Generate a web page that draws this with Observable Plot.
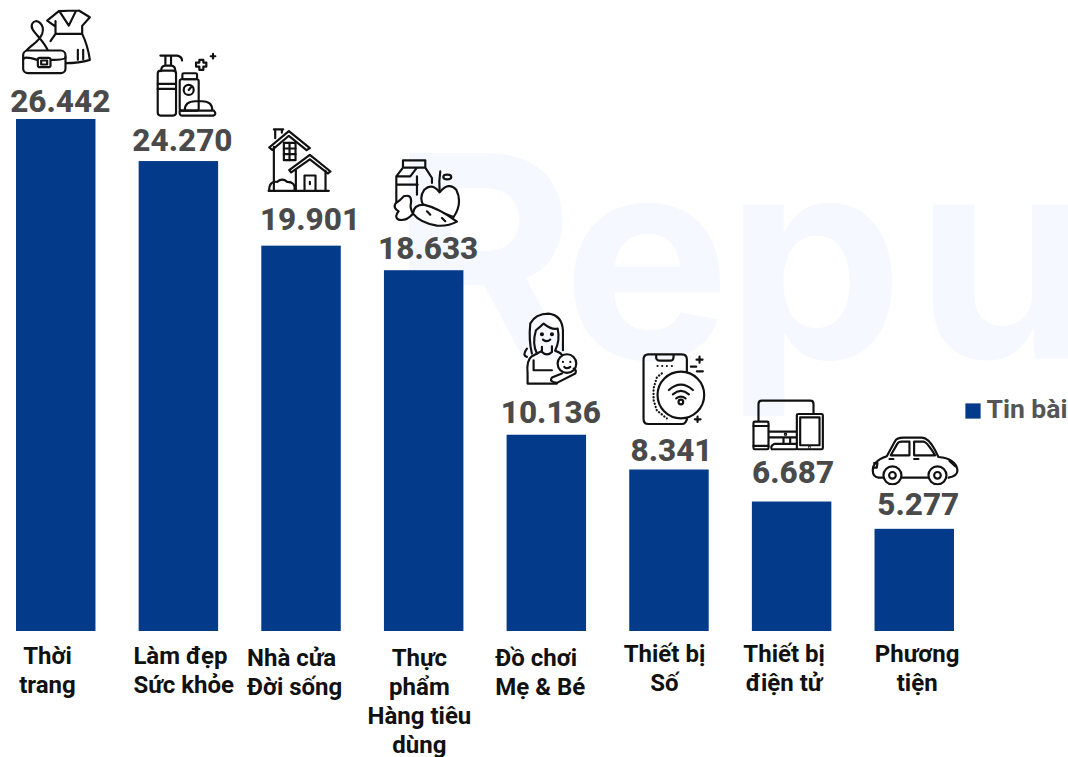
<!DOCTYPE html>
<html lang="vi">
<head>
<meta charset="utf-8">
<script src="https://cdn.jsdelivr.net/npm/d3@7"></script>
<script src="https://cdn.jsdelivr.net/npm/@observablehq/plot@0.6"></script>
<style>
html,body{margin:0;padding:0;background:#fff;overflow:hidden}
svg{display:block}
</style>
</head>
<body>
<div id="chart"></div>
<script>
// ---- data ----
const categories = ["Thời trang","Làm đẹp Sức khỏe","Nhà cửa Đời sống","Thực phẩm Hàng tiêu dùng","Đồ chơi Mẹ & Bé","Thiết bị Số","Thiết bị điện tử","Phương tiện"];
const tinBai = [26442,24270,19901,18633,10136,8341,6687,5277];
const tickLines = ["Thời\ntrang","Làm đẹp\nSức khỏe","Nhà cửa\nĐời sống","Thực\nphẩm\nHàng tiêu\ndùng","Đồ chơi\nMẹ & Bé","Thiết bị\nSố","Thiết bị\nđiện tử","Phương\ntiện"];
const seriesName = "Tin bài";
const watermarkLetters = ["R","e","p","u"];

// ---- hand placement of the annotations, as in the reference ----
const valueNudge = [[4,-18],[3.5,-21],[8.5,-26],[4,-22],[4,-22],[2,-19],[1,-29],[3.5,-24]];
const tickNudge  = [[-8.75,12,"middle"],[-45.5,12,"start"],[-54.5,14.5,"start"],[-4.8,14.5,"middle"],[-51.5,14.5,"start"],[-5,10.5,"middle"],[-8,10.5,"middle"],[2.4,10.5,"middle"]];
const watermarkX = [390,562,725,915];
// icon box [left offset from band centre, top offset from bar top, width, height]
const iconBox = [[-35.75,-112.3,71.7,70],[-23.5,-109.3,63.3,65],[-35,-118.7,66,65.7],[-32.2,-112.7,68.3,70],[-24.9,-125,56.7,76],[-28.6,-118,65,74],[-41.3,-103.7,74.7,53.3],[-44,-94,88.7,50]];

const ink = 'fill="none" stroke="#111" stroke-width="STROKE" stroke-linecap="round" stroke-linejoin="round"';
const icons = [
 ["60 20 215 210",6.5,`<path d="M175 32 L140 60 L165 78 M235 30 L268 50 L245 76 M175 32 Q205 30 235 30 M178 34 L205 75 L225 34 M165 62 V100 H245 V76 M165 100 L150 122 M245 100 Q262 135 268 178 Q235 188 195 188 M232 148 V178 M248 148 V176"/><path d="M142 150 C125 110 85 90 95 70 C105 50 135 70 125 100 C115 125 90 135 78 150"/><rect x="68" y="150" width="127" height="68" rx="14" fill="#fff"/><path d="M68 178 Q68 165 110 178 M150 178 Q195 178 195 170"/><rect x="112" y="172" width="38" height="28" rx="6" fill="#fff"/><rect x="122" y="180" width="18" height="12"/>`],
 ["465 155 190 195",6.5,`<path d="M480 165 H530 Q545 168 545 180 M495 165 V195 M512 165 V195 M482 212 Q482 195 495 195 H512 Q525 195 525 212"/><rect x="472" y="210" width="55" height="135" rx="9"/><path d="M472 250 H527 M472 265 H527"/><rect x="538" y="236" width="57" height="94" rx="6"/><rect x="546" y="218" width="44" height="18" rx="4"/><circle cx="565" cy="268" r="15"/><path d="M565 268 L572 260 M553 330 Q553 302 585 302 H605 Q636 302 636 330 M538 330 H640 Q650 340 640 345 H545 Q536 345 538 330"/><path d="M597 178 H609 V186 H618 V198 H609 V208 H597 V198 H587 V186 H597 Z"/><path d="M638 160 V174 M631 167 H645"/>`],
 ["798 382 198 197",6.5,`<path d="M806 442 L865 393 L928 444 L918 450 L865 407 L815 449 Z M820 388 H848 M824 388 V414 M844 388 V398 M820 440 V570 M804 572 H985"/><rect x="850" y="428" width="35" height="52"/><path d="M867 428 V480 M850 445 H885 M850 462 H885"/><path d="M866 510 L928 464 L990 514 L982 520 L928 478 L872 517 Z M886 510 V572 M975 512 V572" fill="#fff"/><path d="M912 572 V526 H945 V572 M928 545 V552"/><path d="M806 570 Q806 542 830 545 Q845 532 860 545 Q885 545 882 570"/>`],
 ["65 55 205 210",6.5,`<path d="M98 84 V62 H165 V84 Z M98 84 L78 110 V188 M165 84 L185 115 V130 M140 84 L120 110 H78 M78 135 H142 M140 110 V165"/><path d="M208 158 Q185 128 162 150 Q145 175 160 198 L250 232 Q278 190 258 150 Q235 125 208 158 Z" fill="#fff"/><path d="M210 95 Q205 125 208 156"/><ellipse cx="231" cy="112" rx="12" ry="7"/><path d="M128 222 Q130 195 160 195 Q205 205 260 246 Q235 260 200 258 Q150 250 128 222 Z M170 215 L180 225 M215 235 L225 245" fill="#fff"/><path d="M128 222 Q108 245 85 240 Q70 232 85 215 Q68 205 75 192 Q90 182 100 170 Q125 162 122 190 Q118 205 128 222 Z" fill="#fff"/>`],
 ["455 510 170 228",6.5,`<path d="M485 640 Q475 600 480 550 Q495 520 535 520 Q575 525 578 570 V630 M500 640 Q485 610 497 570 Q510 560 520 550 Q545 570 562 565 Q570 600 555 630"/><circle cx="515" cy="582" r="3"/><circle cx="545" cy="582" r="3"/><path d="M518 598 Q530 608 540 598 M515 620 V635 Q530 650 545 635 V618 M515 632 L485 648 Q468 660 472 700 V730 H560 M470 650 Q455 645 470 625 M490 660 V690 H545 M555 632 Q575 638 578 650"/><circle cx="590" cy="670" r="28" fill="#fff"/><path d="M578 665 h.1 M600 665 h.1 M582 680 Q590 688 600 680 M575 700 L545 712 Q535 725 560 728 L615 700 Q620 690 610 685"/>`],
 ["62 36 195 222",6.5,`<path d="M118 252 H85 Q70 252 70 236 V58 Q70 43 85 43 H185 Q200 43 200 58 V96 M108 45 V55 Q110 62 118 62 H150 Q160 62 160 50 V45 M200 240 V235 Q198 252 185 252 H118"/><circle cx="182" cy="165" r="70" fill="#fff"/><path d="M146 150 Q182 118 218 150 M158 163 Q182 143 206 163 M168 175 Q182 165 196 175"/><circle cx="182" cy="186" r="7"/><path d="M112 78 h.1 M126 78 h.1 M140 78 h.1 M155 78 h.1 M125 100 L110 112 L100 145 L100 180 L110 212 L140 235" stroke-dasharray="1 9"/><path d="M238 50 V68 M229 59 H247 M212 80 H228 M230 94 H248 M232 230 V246 M224 238 H241"/>`],
 ["392 175 224 160",6.5,`<path d="M415 243 V192 Q415 182 425 182 H570 Q580 182 580 192 V222 M448 275 H528 M448 292 H528 M490 292 V312 M510 292 V312 M460 328 H528 M455 328 Q450 318 462 312 H528"/><circle cx="496" cy="283" r="2"/><rect x="400" y="245" width="45" height="83" rx="4"/><path d="M400 258 H445 M400 318 H445"/><rect x="530" y="222" width="78" height="106" rx="4"/><rect x="540" y="232" width="58" height="84"/><circle cx="568" cy="322" r="1"/>`],
 ["752 285 266 150",6.5,`<path d="M790 412 H775 Q758 410 758 390 Q758 362 800 348 L825 302 Q830 292 850 292 H905 Q925 292 945 330 L955 350 Q1008 355 1012 390 Q1012 408 985 412 M845 412 H925"/><circle cx="817" cy="405" r="27"/><circle cx="817" cy="405" r="10"/><circle cx="952" cy="405" r="27"/><circle cx="952" cy="405" r="10"/><path d="M812 345 L832 310 Q835 304 845 304 H868 V345 Z M882 304 H910 Q920 304 945 345 H882 Z M808 356 H820 M882 356 H895 M762 368 H772 L770 382 H760 M988 362 L1006 378"/>`]
].map(([vb,sw,body])=>"data:image/svg+xml;charset=utf-8,"+encodeURIComponent(`<svg xmlns="http://www.w3.org/2000/svg" viewBox="${vb}"><g ${ink.replace("STROKE",sw)}>${body}</g></svg>`));

const rows = categories.map((c,i)=>({category:c,value:tinBai[i],tick:tickLines[i]}));
const font = "Roboto, 'Liberation Sans', sans-serif";
const bandW = 79.5, step = 122.7;

const plot = Plot.plot({
  width:1068, height:757, margin:0,
  style:{fontFamily:font, background:"#fff"},
  x:{type:"band", domain:categories, range:[16,954], round:false, paddingInner:1-bandW/step, paddingOuter:0, align:0, axis:null},
  y:{type:"linear", domain:[0,26442], range:[631,119], axis:null},
  marks:[
    // watermark, one letter at a time
    ...watermarkLetters.map((l,i)=>Plot.text([l],{frameAnchor:"top-left", dx:watermarkX[i], dy:358, text:d=>d, fontSize:282, fontWeight:700, fill:"#f5f8ff", textAnchor:"start", lineAnchor:"bottom", fontFamily:"Inter, Lato, sans-serif"})),
    Plot.barY(rows,{x:"category",y:"value",fill:"#033a8a"}),
    ...rows.map((r,i)=>Plot.text([r],{x:"category",y:"value",text:d=>d3.format(",")(d.value).replace(",","."),dx:valueNudge[i][0],dy:valueNudge[i][1],fontSize:31.5,fontWeight:800,fill:"#4a4a4a"})),
    ...rows.map((r,i)=>Plot.text([r],{x:"category",y:()=>0,text:"tick",dx:tickNudge[i][0],dy:tickNudge[i][1],textAnchor:tickNudge[i][2],lineAnchor:"top",fontSize:24,fontWeight:700,fill:"#111",lineHeight:1.2})),
    ...rows.map((r,i)=>Plot.image([r],{x:"category",y:"value",src:()=>icons[i],width:iconBox[i][2],height:iconBox[i][3],preserveAspectRatio:"none",dx:iconBox[i][0]+iconBox[i][2]/2,dy:iconBox[i][1]+iconBox[i][3]/2})),
    // legend
    Plot.dot([seriesName],{frameAnchor:"top-left",dx:972.5,dy:410.5,symbol:"square",r:8.6,fill:"#033a8a",stroke:null}),
    Plot.text([seriesName],{frameAnchor:"top-left",dx:986,dy:409,text:d=>d,textAnchor:"start",lineAnchor:"middle",fontSize:26.5,fontWeight:700,fill:"#555"})
  ]
});
document.getElementById("chart").append(plot);
</script>
</body>
</html>
